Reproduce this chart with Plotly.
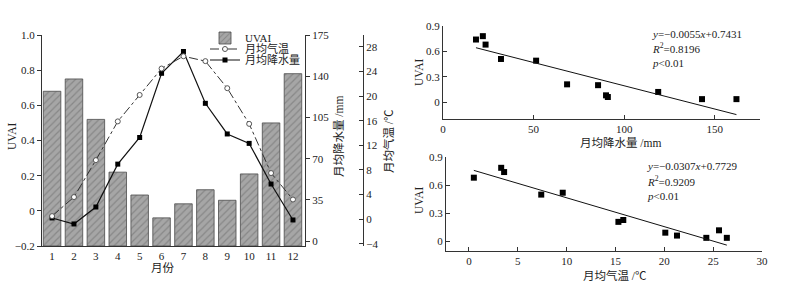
import plotly.graph_objects as go

W, H = 791, 283

# ---------------- data ----------------
months = list(range(1, 13))
month_labels = [str(m) for m in months]
uvai = [0.68, 0.75, 0.52, 0.22, 0.09, -0.04, 0.04, 0.12, 0.06, 0.21, 0.50, 0.78]
temp = [0.5, 3.6, 9.6, 15.9, 20.2, 24.5, 26.5, 25.7, 21.3, 15.5, 7.5, 3.2]
precip = [19.7, 14.6, 29.0, 65.4, 88.0, 142.5, 161.0, 117.0, 91.0, 83.0, 48.5, 18.0]

sc_precip = [18.2, 22.0, 23.5, 32.0, 51.4, 68.5, 85.6, 90.0, 91.0, 118.8, 143.0, 162.0]
sc_precip_uvai = [0.74, 0.78, 0.68, 0.51, 0.49, 0.21, 0.20, 0.08, 0.06, 0.12, 0.035, 0.035]
sc_temp = [0.5, 3.3, 3.6, 7.4, 9.6, 15.3, 15.8, 20.1, 21.3, 24.3, 25.6, 26.4]
sc_temp_uvai = [0.68, 0.785, 0.74, 0.50, 0.52, 0.21, 0.23, 0.095, 0.064, 0.04, 0.12, 0.04]

fit1_slope, fit1_icpt = -0.0055, 0.7431
fit2_slope, fit2_icpt = -0.0307, 0.7729
fit1_text = ["<i>y</i>=−0.0055<i>x</i>+0.7431", "<i>R</i><sup>2</sup>=0.8196", "<i>p</i>&lt;0.01"]
fit2_text = ["<i>y</i>=−0.0307<i>x</i>+0.7729", "<i>R</i><sup>2</sup>=0.9209", "<i>p</i>&lt;0.01"]

uvai_ticks = [-0.2, 0, 0.2, 0.4, 0.6, 0.8, 1.0]
uvai_ticktext = ["−0.2", "0", "0.2", "0.4", "0.6", "0.8", "1.0"]
precip_ticks = [0, 35, 70, 105, 140, 175]
temp_ticks = [-4, 0, 4, 8, 12, 16, 20, 24, 28]
sc_uvai_ticks = [0, 0.3, 0.6, 0.9]
sc_precip_xticks = [0, 50, 100, 150]
sc_temp_xticks = [0, 5, 10, 15, 20, 25, 30]

# ---------------- helpers ----------------
def dom_x(a, b):
    return [a / W, b / W]

def dom_y(top, bottom):
    return [1 - bottom / H, 1 - top / H]

FONT = "Liberation Serif, Noto Sans CJK SC, serif"
AX = "#333333"
base = -0.2

fig = go.Figure()

fig.add_trace(go.Bar(
    x=months, y=[v - base for v in uvai], base=base, name="UVAI",
    width=0.8, xaxis="x", yaxis="y", legend="legend",
    marker=dict(color="#a6a6a6", line=dict(color="#4a4a4a", width=0.8),
                pattern=dict(shape="/", fgcolor="#6a6a6a", bgcolor="#a6a6a6",
                             size=5, solidity=0.25)),
))
fig.add_trace(go.Scatter(
    x=months, y=temp, name="月均气温", mode="lines+markers", xaxis="x", yaxis="y3",
    legend="legend2",
    line=dict(color="#333333", width=1, dash="dashdot"),
    marker=dict(symbol="circle", size=5, color="white", line=dict(color="#555555", width=1)),
))
fig.add_trace(go.Scatter(
    x=months, y=precip, name="月均降水量", mode="lines+markers", xaxis="x", yaxis="y2",
    legend="legend3",
    line=dict(color="#111111", width=1.2),
    marker=dict(symbol="square", size=5, color="#000000"),
))

# scatter 1
fig.add_trace(go.Scatter(
    x=sc_precip, y=sc_precip_uvai, mode="markers", xaxis="x2", yaxis="y4", showlegend=False,
    marker=dict(symbol="square", size=6, color="#000000"),
))
x1 = [min(sc_precip), max(sc_precip)]
fig.add_trace(go.Scatter(
    x=x1, y=[fit1_slope * v + fit1_icpt for v in x1], mode="lines", xaxis="x2", yaxis="y4",
    showlegend=False, line=dict(color="#111111", width=1),
))
# scatter 2
fig.add_trace(go.Scatter(
    x=sc_temp, y=sc_temp_uvai, mode="markers", xaxis="x3", yaxis="y5", showlegend=False,
    marker=dict(symbol="square", size=6, color="#000000"),
))
x2 = [min(sc_temp), max(sc_temp)]
fig.add_trace(go.Scatter(
    x=x2, y=[fit2_slope * v + fit2_icpt for v in x2], mode="lines", xaxis="x3", yaxis="y5",
    showlegend=False, line=dict(color="#111111", width=1),
))

common = dict(showgrid=False, zeroline=False, showline=True, linecolor=AX, linewidth=1,
              tickcolor=AX, ticklen=4, automargin=False,
              tickfont=dict(family=FONT, size=11, color="#222"))

def leg(ypx):
    return dict(x=205 / W, y=1 - ypx / H, xanchor="left", yanchor="middle",
                bgcolor="rgba(0,0,0,0)", font=dict(family=FONT, size=11, color="#222"),
                itemwidth=30, borderwidth=0)

fig.update_layout(
    width=W, height=H, margin=dict(l=0, r=0, t=0, b=0, pad=0, autoexpand=False),
    paper_bgcolor="white", plot_bgcolor="rgba(0,0,0,0)",
    font=dict(family=FONT, size=11, color="#222"),
    showlegend=True,
    legend=leg(38), legend2=leg(49), legend3=leg(60),
    xaxis=dict(domain=dom_x(42, 305), range=[0.54, 12.55], anchor="y",
               tickvals=months, ticktext=month_labels, ticks="", **common),
    yaxis=dict(domain=dom_y(35, 246), range=[-0.2, 1.0], anchor="x",
               tickvals=uvai_ticks, ticktext=uvai_ticktext, ticks="outside", **common),
    yaxis2=dict(range=[-4.1, 175], overlaying="y", side="right", anchor="x",
                tickvals=precip_ticks, ticks="outside", **common),
    yaxis3=dict(range=[-4.36, 29.95], overlaying="y", side="right", anchor="free",
                position=363 / W, tickvals=temp_ticks, ticks="inside", **common),
    xaxis2=dict(domain=dom_x(443, 760), range=[0, 175], anchor="y4",
                tickvals=sc_precip_xticks, ticks="inside", **common),
    yaxis4=dict(domain=dom_y(26, 119), range=[-0.2, 0.9], anchor="x2",
                tickvals=sc_uvai_ticks, ticks="inside", **common),
    xaxis3=dict(domain=dom_x(446, 762), range=[-2.35, 30], anchor="y5",
                tickvals=sc_temp_xticks, ticks="inside", **common),
    yaxis5=dict(domain=dom_y(157, 251), range=[-0.1, 0.9], anchor="x3",
                tickvals=sc_uvai_ticks, ticks="inside", **common),
)

ann = []
def title(text, x, y, angle=0):
    ann.append(dict(text=text, x=x / W, y=1 - y / H, xref="paper", yref="paper",
                    showarrow=False, textangle=angle, xanchor="center", yanchor="middle",
                    font=dict(family=FONT, size=11.5, color="#222")))

title("UVAI", 12, 137, -90)
title("月份", 163, 268)
title("月均降水量 /mm", 338, 136, -90)
title("月均气温 /℃", 388, 141, -90)
title("UVAI", 419, 73, -90)
title("月均降水量 /mm", 621, 142)
title("UVAI", 419, 201, -90)
title("月均气温 /℃", 615, 275)

for t, yy in zip(fit1_text, [34, 48, 63]):
    ann.append(dict(text=t, x=650 / W, y=1 - yy / H, xref="paper", yref="paper",
                    showarrow=False, xanchor="left", yanchor="middle",
                    font=dict(family=FONT, size=11, color="#222")))
for t, yy in zip(fit2_text, [166, 181, 196]):
    ann.append(dict(text=t, x=645 / W, y=1 - yy / H, xref="paper", yref="paper",
                    showarrow=False, xanchor="left", yanchor="middle",
                    font=dict(family=FONT, size=11, color="#222")))

fig.update_layout(annotations=ann)
fig.write_html("out.html", config={"displayModeBar": False},
               post_script="document.body.style.margin='0px';document.body.style.padding='0px';")
